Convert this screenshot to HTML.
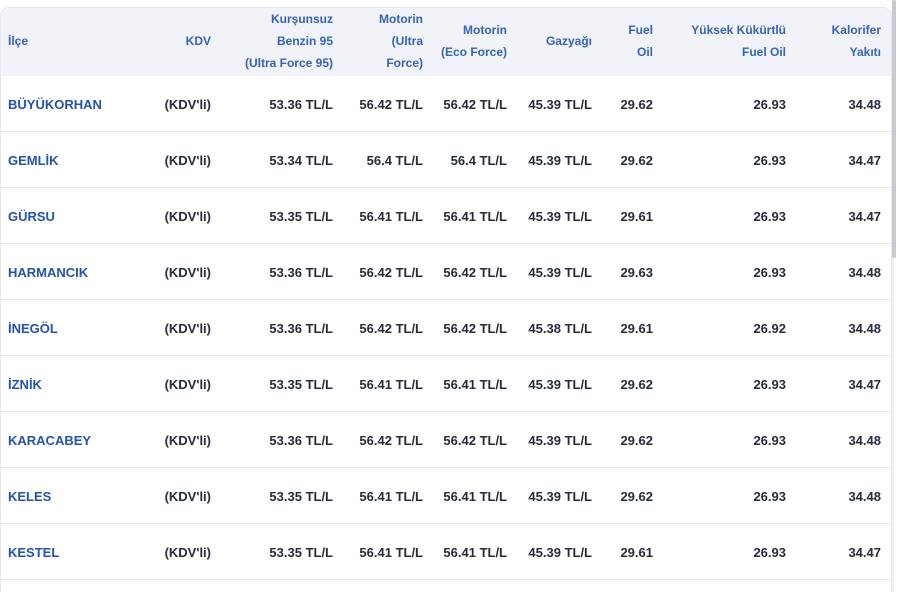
<!DOCTYPE html>
<html>
<head>
<meta charset="utf-8">
<style>
html,body{margin:0;padding:0;background:#fff;width:900px;height:592px;overflow:hidden;}
body{font-family:"Liberation Sans",Arial,sans-serif;font-weight:bold;}
.wrap{position:relative;width:900px;height:592px;overflow:hidden;}
.box{position:absolute;left:0;top:7px;width:890px;height:600px;border:1px solid #e6e8ee;border-radius:9px 9px 0 0;overflow:hidden;background:#fff;}
.head{position:absolute;left:0;top:0;width:100%;height:68px;background:#f1f3f8;}
.h{position:absolute;white-space:nowrap;text-align:right;font-size:12px;line-height:22px;color:#3563b6;}
.row{position:absolute;left:0;width:891px;height:55px;border-bottom:1px solid #e8e9ee;}
.c{position:absolute;top:1px;white-space:nowrap;text-align:right;font-size:13px;line-height:56px;color:#252d3b;}
.n{position:absolute;top:1px;left:8px;white-space:nowrap;font-size:13px;line-height:56px;color:#2453ab;}
.sb{position:absolute;left:892px;top:0;width:4px;height:258px;background:#c6c9cf;border-radius:2px;}
.tr{position:absolute;left:892px;top:258px;width:2px;height:340px;background:#eef0f3;}
.k1{right:680px}.k2{right:558px}.k3{right:468px}.k4{right:384px}.k5{right:299px}.k6{right:238px}.k7{right:105px}.k8{right:10px}
</style>
</head>
<body>
<div class="wrap">
<div class="box">
  <div class="head"></div>
</div>

<div class="h" style="left:8px;top:30px;text-align:left;">İlçe</div>
<div class="h" style="right:689px;top:30px;">KDV</div>
<div class="h" style="right:567px;top:8px;">Kurşunsuz<br>Benzin 95<br>(Ultra Force 95)</div>
<div class="h" style="right:477px;top:8px;">Motorin<br>(Ultra<br>Force)</div>
<div class="h" style="right:393px;top:19px;">Motorin<br>(Eco Force)</div>
<div class="h" style="right:308px;top:30px;">Gazyağı</div>
<div class="h" style="right:247px;top:19px;">Fuel<br>Oil</div>
<div class="h" style="right:114px;top:19px;">Yüksek Kükürtlü<br>Fuel Oil</div>
<div class="h" style="right:19px;top:19px;">Kalorifer<br>Yakıtı</div>

<div class="row" style="top:76px;"><span class="n">BÜYÜKORHAN</span><span class="c k1">(KDV'li)</span><span class="c k2">53.36 TL/L</span><span class="c k3">56.42 TL/L</span><span class="c k4">56.42 TL/L</span><span class="c k5">45.39 TL/L</span><span class="c k6">29.62</span><span class="c k7">26.93</span><span class="c k8">34.48</span></div>
<div class="row" style="top:132px;"><span class="n">GEMLİK</span><span class="c k1">(KDV'li)</span><span class="c k2">53.34 TL/L</span><span class="c k3">56.4 TL/L</span><span class="c k4">56.4 TL/L</span><span class="c k5">45.39 TL/L</span><span class="c k6">29.62</span><span class="c k7">26.93</span><span class="c k8">34.47</span></div>
<div class="row" style="top:188px;"><span class="n">GÜRSU</span><span class="c k1">(KDV'li)</span><span class="c k2">53.35 TL/L</span><span class="c k3">56.41 TL/L</span><span class="c k4">56.41 TL/L</span><span class="c k5">45.39 TL/L</span><span class="c k6">29.61</span><span class="c k7">26.93</span><span class="c k8">34.47</span></div>
<div class="row" style="top:244px;"><span class="n">HARMANCIK</span><span class="c k1">(KDV'li)</span><span class="c k2">53.36 TL/L</span><span class="c k3">56.42 TL/L</span><span class="c k4">56.42 TL/L</span><span class="c k5">45.39 TL/L</span><span class="c k6">29.63</span><span class="c k7">26.93</span><span class="c k8">34.48</span></div>
<div class="row" style="top:300px;"><span class="n">İNEGÖL</span><span class="c k1">(KDV'li)</span><span class="c k2">53.36 TL/L</span><span class="c k3">56.42 TL/L</span><span class="c k4">56.42 TL/L</span><span class="c k5">45.38 TL/L</span><span class="c k6">29.61</span><span class="c k7">26.92</span><span class="c k8">34.48</span></div>
<div class="row" style="top:356px;"><span class="n">İZNİK</span><span class="c k1">(KDV'li)</span><span class="c k2">53.35 TL/L</span><span class="c k3">56.41 TL/L</span><span class="c k4">56.41 TL/L</span><span class="c k5">45.39 TL/L</span><span class="c k6">29.62</span><span class="c k7">26.93</span><span class="c k8">34.47</span></div>
<div class="row" style="top:412px;"><span class="n">KARACABEY</span><span class="c k1">(KDV'li)</span><span class="c k2">53.36 TL/L</span><span class="c k3">56.42 TL/L</span><span class="c k4">56.42 TL/L</span><span class="c k5">45.39 TL/L</span><span class="c k6">29.62</span><span class="c k7">26.93</span><span class="c k8">34.48</span></div>
<div class="row" style="top:468px;"><span class="n">KELES</span><span class="c k1">(KDV'li)</span><span class="c k2">53.35 TL/L</span><span class="c k3">56.41 TL/L</span><span class="c k4">56.41 TL/L</span><span class="c k5">45.39 TL/L</span><span class="c k6">29.62</span><span class="c k7">26.93</span><span class="c k8">34.48</span></div>
<div class="row" style="top:524px;"><span class="n">KESTEL</span><span class="c k1">(KDV'li)</span><span class="c k2">53.35 TL/L</span><span class="c k3">56.41 TL/L</span><span class="c k4">56.41 TL/L</span><span class="c k5">45.39 TL/L</span><span class="c k6">29.61</span><span class="c k7">26.93</span><span class="c k8">34.47</span></div>

<div class="tr"></div>
<div class="sb"></div>
</div>
</body>
</html>
